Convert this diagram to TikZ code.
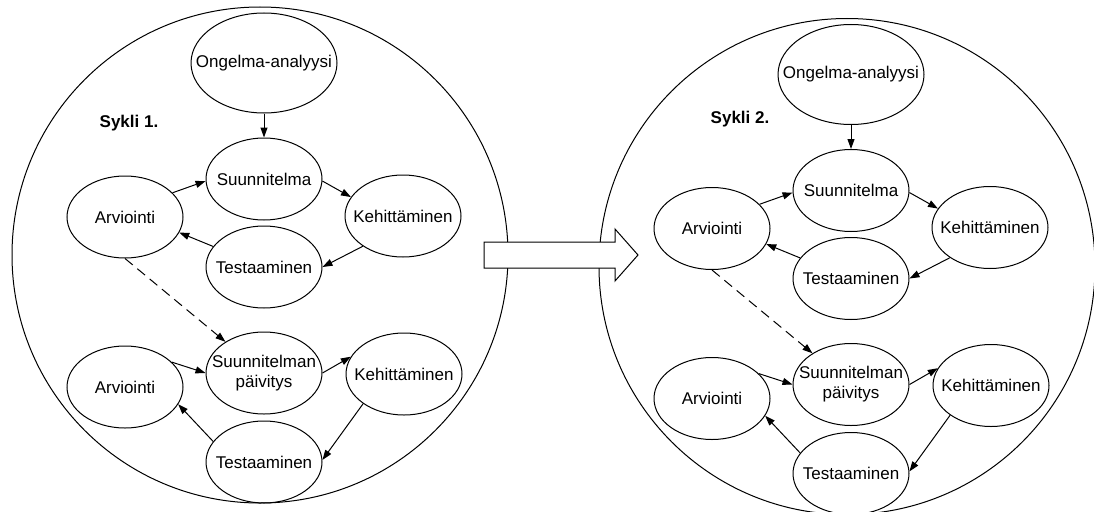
\documentclass[tikz,border=0pt]{standalone}
\usepackage{fontspec}
\setmainfont{Liberation Sans}
\usetikzlibrary{shapes.geometric,arrows.meta}
\tikzset{
  el/.style={draw, ellipse, line width=1pt, inner xsep=-40pt, inner ysep=-10pt,
    minimum width=116pt, minimum height=82pt, align=center},
  bigel/.style={minimum width=146pt, minimum height=100pt},
  conn/.style={line width=1pt, -{Triangle[length=10pt,width=7pt]}},
  dconn/.style={conn, dash pattern=on 10pt off 6pt},
  lab/.style={font=\fontsize{17}{20}\selectfont\bfseries},
  ring/.style={draw, line width=1pt}
}
\newcommand\drawcycle[5]{%
\begin{scope}[shift={(#2,#3)}]
  \node[el,bigel] (#1O) at (264,63) {Ongelma-analyysi};
  \node[lab] (#1lab) at (#5) {#4};
  \node[el] (#1S) at (264,179) {Suunnitelma};
  \node[el] (#1A) at (125,217) {Arviointi};
  \node[el] (#1K) at (403,216) {Kehittäminen};
  \node[el] (#1T) at (264,267) {Testaaminen};
  \node[el] (#1P) at (264,373) {Suunnitelman\\päivitys};
  \node[el] (#1B) at (125,387) {Arviointi};
  \node[el] (#1L) at (404,374) {Kehittäminen};
  \node[el] (#1U) at (264,462) {Testaaminen};
  \draw[conn] (#1O.270) -- (#1S.90);
  \draw[conn] (#1A.27) -- (#1S.182);
  \draw[conn] (#1S.-2) -- (#1K.160);
  \draw[conn] (#1K.217) -- (#1T.0);
  \draw[conn] (#1T.158) -- (#1A.344);
  \draw[dconn] (#1A.270) -- (#1P.141);
  \draw[conn] (#1B.28) -- (#1P.180);
  \draw[conn] (#1P.0) -- (#1L.162);
  \draw[conn] (#1L.216) -- (#1U.2);
  \draw[conn] (#1U.158) -- (#1B.342);
\end{scope}}
\begin{document}
\begin{tikzpicture}[x=1pt,y=-1pt,font=\fontsize{17}{20}\selectfont]
\useasboundingbox (0,0) rectangle (1094,511);
\node[ring, circle, minimum size=496pt, inner sep=0pt] (c1) at (260,255) {};
\node[ring, circle, minimum size=496pt, inner sep=0pt] (c2) at (847,266.5) {};
\draw[line width=1pt, fill=white] (484,242) -- (615,242) -- (615,229) -- (638,255)
  -- (615,281) -- (615,268) -- (484,268) -- cycle;
\drawcycle{a}{0}{0}{Sykli 1.}{129,123}
\drawcycle{b}{587}{11.5}{Sykli 2.}{153,107.5}
\end{tikzpicture}
\end{document}
